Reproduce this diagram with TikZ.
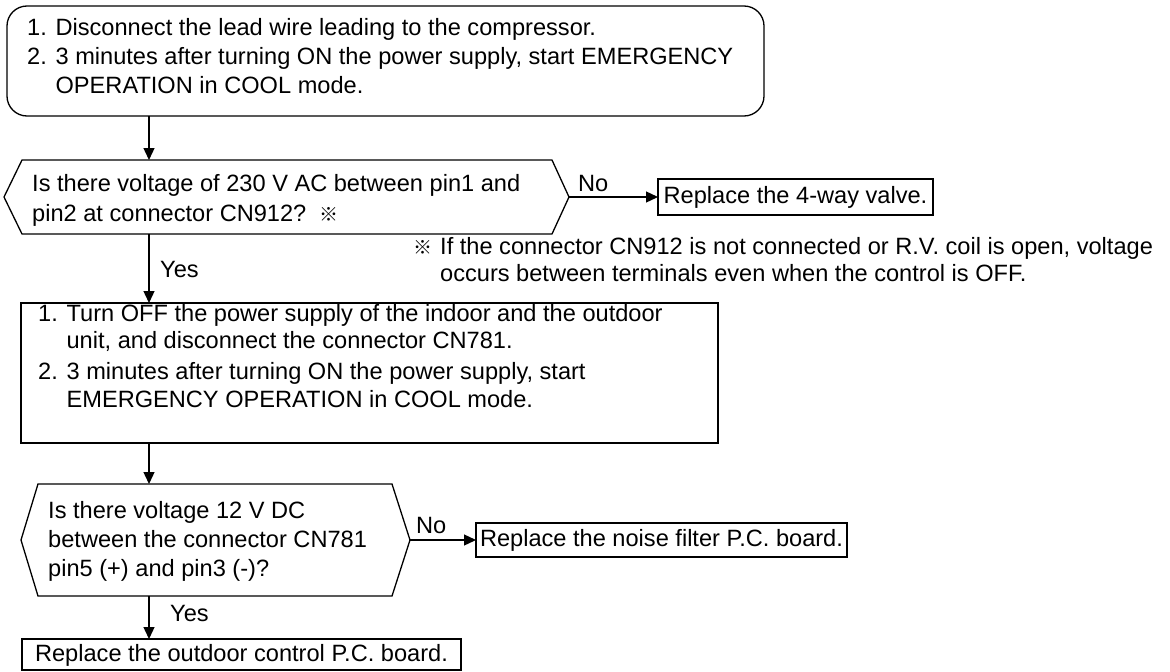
\documentclass[tikz,border=0pt]{standalone}
\usepackage{fontspec}
\setmainfont{Liberation Sans}
\newfontfamily\cjk{Noto Sans CJK JP}
\usetikzlibrary{arrows.meta}
\newcommand{\fs}{\fontsize{23.6}{29}\selectfont}
\newcommand{\refmark}{{\cjk\fontsize{19}{29}\selectfont ※}}
\begin{document}
\begin{tikzpicture}[x=1pt,y=-1pt,
  tl/.style={font=\fs, inner sep=0, anchor=base west},
  ln/.style={line width=1.3pt},
  arr/.style={line width=1.3pt, -{Triangle[length=12pt,width=11pt]}},
  bx/.style={draw, line width=2.4pt, font=\fs, inner sep=0pt, text depth=0pt}]
\useasboundingbox (0,0) rectangle (1170,672);

% top box
\draw[ln, rounded corners=20pt] (7,6) rectangle (764,116);
\coordinate (topb) at (149,116);
\node[tl] (t1) at (27,35) {1. Disconnect the lead wire leading to the compressor.};
\node[tl] (t2) at (27,64) {2. 3 minutes after turning ON the power supply, start EMERGENCY};
\node[tl] (t3) at (27,93) {\phantom{2. }OPERATION in COOL mode.};

% decision 1
\draw[ln] (4,197) coordinate (h1l) -- (22,160) -- (552,160) -- (569,197) coordinate (h1r) -- (552,234) -- (22,234) -- cycle;
\coordinate (h1t) at (149,160);
\coordinate (h1b) at (149,234);
\node[tl] (q1a) at (32,191) {Is there voltage of 230 V AC between pin1 and};
\node[tl] (q1b) at (32,221) {pin2 at connector CN912?\ \ \refmark};
\draw[arr] (topb) -- (h1t);

\draw[bx] (658,179) rectangle (933,215);
\node[font=\fs, inner sep=0] (v) at (795.5,197) {Replace the 4-way valve.};
\coordinate (vw) at (658,197);
\node[tl] (no1) at (578,191) {No};
\draw[arr] (h1r) -- (vw);

% note
\node[tl] (nm) at (413,254) {\refmark};
\node[tl] (n1) at (440,254) {If the connector CN912 is not connected or R.V. coil is open, voltage};
\node[tl] (n2) at (440,281) {occurs between terminals even when the control is OFF.};

% box 2
\draw[ln] (21,303) rectangle (718,443);
\coordinate (b2top) at (149,303);
\coordinate (b2bot) at (149,443);
\node[tl] (b2l1) at (38,321) {1. Turn OFF the power supply of the indoor and the outdoor};
\node[tl] (b2l2) at (38,348) {\phantom{1. }unit, and disconnect the connector CN781.};
\node[tl] (b2l3) at (38,379) {2. 3 minutes after turning ON the power supply, start};
\node[tl] (b2l4) at (38,407) {\phantom{2. }EMERGENCY OPERATION in COOL mode.};
\draw[arr] (h1b) -- (b2top);
\node[tl] (yes1) at (160,277) {Yes};

% decision 2
\draw[ln] (21,540) coordinate (h2l) -- (38,484) -- (392,484) -- (410,540) coordinate (h2r) -- (392,596) -- (38,596) -- cycle;
\coordinate (h2t) at (149,484);
\coordinate (h2b) at (149,596);
\node[tl] (q2a) at (48,518) {Is there voltage 12 V DC};
\node[tl] (q2b) at (48,547) {between the connector CN781};
\node[tl] (q2c) at (48,576) {pin5 (+) and pin3 (-)?};
\draw[arr] (b2bot) -- (h2t);

\draw[bx] (476,523) rectangle (847,557);
\node[font=\fs, inner sep=0] (nf) at (661.5,540) {Replace the noise filter P.C. board.};
\coordinate (nfw) at (476,540);
\node[tl] (no2) at (416,533) {No};
\draw[arr] (h2r) -- (nfw);

% final
\draw[bx] (22,639) rectangle (461,670);
\node[font=\fs, inner sep=0] (fin) at (241.5,655) {Replace the outdoor control P.C. board.};
\coordinate (fint) at (149,639);
\draw[arr] (h2b) -- (fint);
\node[tl] (yes2) at (170,621) {Yes};
\end{tikzpicture}
\end{document}
